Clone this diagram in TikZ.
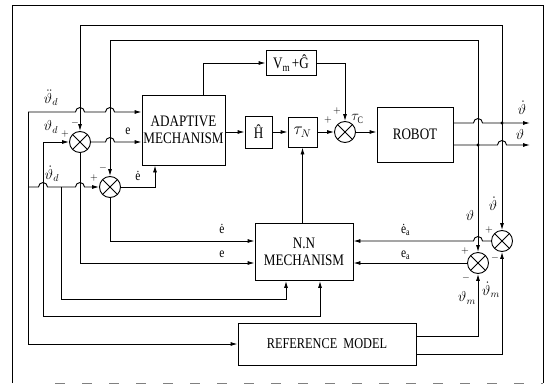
\documentclass[tikz,border=0pt]{standalone}
\usepackage{fontspec}
\setmainfont{Liberation Serif}[FakeStretch=0.82]
\usetikzlibrary{arrows.meta}
\tikzset{
 w/.style={line width=0.9pt},
 ar/.style={-{Latex[length=7pt,width=4pt]}},
 blk/.style={draw, line width=0.9pt, inner sep=0pt, font=\fontsize{16}{17}\selectfont, align=center},
 sumn/.style={draw, circle, line width=0.9pt, minimum size=21pt, inner sep=0pt,
   path picture={\draw[line width=0.9pt] (path picture bounding box.north west)--(path picture bounding box.south east)
     (path picture bounding box.north east)--(path picture bounding box.south west);}},
 lbl/.style={font=\fontsize{14}{14}\selectfont, inner sep=0pt},
 sg/.style={font=\fontsize{10}{10}\selectfont, inner sep=0pt},
}
\begin{document}
\begin{tikzpicture}[x=1pt,y=-1pt]
\useasboundingbox (0,0) rectangle (545,385);
% frame
\draw[w] (12,383) -- (12,5) -- (543,5) -- (543,383);
\draw[w, gray, dash pattern=on 10pt off 17pt] (55,383) -- (543,383);

% blocks
\node[blk, minimum width=83pt, minimum height=70pt] (adapt) at (183.5,130) {ADAPTIVE\\MECHANISM};
\node[blk, minimum width=27pt, minimum height=32pt] (H) at (258.5,132) {Ĥ};
\node[blk, minimum width=29pt, minimum height=30pt] (tauN) at (302.5,132) {$\tau_N$};
\node[blk, minimum width=50pt, minimum height=25pt] (VG) at (291,63) {V$_{\mathrm m}$+Ĝ};
\node[sumn] (sumT) at (345,132) {};
\node[blk, minimum width=76pt, minimum height=55pt] (robot) at (415,134.5) {ROBOT};
\node[blk, minimum width=98pt, minimum height=57pt] (nn) at (304,252) {N.N\\MECHANISM};
\node[blk, minimum width=178pt, minimum height=42pt, font=\fontsize{15}{16}\selectfont] (ref) at (327,344) {REFERENCE\ \ MODEL};
\node[sumn] (s1) at (80,142) {};
\node[sumn] (s2) at (110,187) {};
\node[sumn] (s3) at (478,263) {};
\node[sumn] (s4) at (502,241) {};

% coordinates
\coordinate (in1) at (28,112);
\coordinate (in2) at (43,142);
\coordinate (in3) at (28,187);
\coordinate (jd) at (61,187);
\coordinate (nb1) at (320,316);
\coordinate (nb2) at (286,299);
\coordinate (j1) at (478,145);
\coordinate (j2) at (502,123);
\coordinate (o1) at (530,123);
\coordinate (o2) at (530,145);

% forward path
\draw[w,ar] (adapt.east |- H.west) -- (H.west);
\draw[w,ar] (H.east) -- (tauN.west);
\draw[w,ar] (tauN.east) -- (sumT.west);
\draw[w,ar] (sumT.east) -- (robot.west |- sumT.east);
\draw[w,ar] ([xshift=19.5pt]adapt.north) |- (VG.west);
\draw[w,ar] (VG.east) -| (sumT.north);
\draw[w,ar] (tauN.south |- nn.north) -- (tauN.south);

% left inputs
\draw[w,ar] (in1) -- (75.5,112) arc[start angle=180,end angle=0,radius=4.5pt]
  -- (105.5,112) arc[start angle=180,end angle=0,radius=4.5pt] -- (adapt.west |- in1);
\draw[w,ar] (in1) |- (ref.west);
\draw[w,ar] (in2) -- (s1.west);
\draw[w,ar] (in2) |- (nb1) -- (nb1 |- nn.south);
\draw[w,ar] (in3) -- (38.5,187) arc[start angle=180,end angle=0,radius=4.5pt]
  -- (75.5,187) arc[start angle=180,end angle=0,radius=4.5pt] -- (s2.west);
\draw[w,ar] (jd) |- (nb2) -- (nb2 |- nn.south);
\draw[w,ar] (s1.east) -- (105.5,142) arc[start angle=180,end angle=0,radius=4.5pt] -- (adapt.west |- s1.east);
\draw[w,ar] (s1.south) |- ([yshift=-11pt]nn.west);
\draw[w,ar] (s2.south) |- ([yshift=11pt]nn.west);
\draw[w,ar] (s2.east) -| ([xshift=-28.5pt]adapt.south);

% feedback
\draw[w,ar] (j2) -- (502,25) -- (80,25) -- (s1.north);
\draw[w,ar] (j2) -- (s4.north);
\draw[w,ar] (j1) -- (478,40) -- (110,40) -- (s2.north);
\draw[w,ar] (j1) -- (s3.north);
\draw[w,ar] (robot.east |- j2) -- (473.5,123) arc[start angle=180,end angle=0,radius=4.5pt] -- (o1);
\draw[w,ar] (robot.east |- j1) -- (497.5,145) arc[start angle=180,end angle=0,radius=4.5pt] -- (o2);
\fill (j1) circle[radius=1.6pt];
\fill (j2) circle[radius=1.6pt];
\draw[w,ar] (s4.west) -- (482.5,241) arc[start angle=0,end angle=180,radius=4.5pt] -- ([yshift=11pt]nn.east);
\draw[w,ar] (s3.west) -- ([yshift=-11pt]nn.east);
\draw[w,ar] ([yshift=8pt]ref.east) -| (s3.south);
\draw[w,ar] ([yshift=-10pt]ref.east) -| (s4.south);

% labels
\node[lbl] (l1) at (51,98) {$\ddot\vartheta_d$};
\node[lbl] (l2) at (51,127) {$\vartheta_d$};
\node[sg] (p1) at (65,134) {$+$};
\node[sg] (m1) at (75,123) {$-$};
\node[lbl] (le1) at (128,131) {e};
\node[lbl] (l3) at (52,174) {$\dot\vartheta_d$};
\node[sg] (p2) at (94,178) {$+$};
\node[sg] (m2) at (103,168) {$-$};
\node[lbl] (le2) at (138,176) {ė};
\node[lbl] (le3) at (222,229) {ė};
\node[lbl] (le4) at (222,254) {e};
\node[sg] (p3) at (328,120) {$+$};
\node[sg] (p4) at (337,111) {$+$};
\node[lbl] (ltc) at (358,119) {$\tau_{\mathrm C}$};
\node[lbl] (lo1) at (522,108) {$\dot\vartheta$};
\node[lbl] (lo2) at (520,134) {$\vartheta$};
\node[lbl] (lf1) at (470,215) {$\vartheta$};
\node[lbl] (lf2) at (493,204) {$\dot\vartheta$};
\node[sg] (p5) at (489,230) {$+$};
\node[sg] (m5) at (495,258) {$-$};
\node[sg] (p6) at (465,251) {$+$};
\node[sg] (m6) at (466,278) {$-$};
\node[lbl] (lm1) at (467,298) {$\vartheta_m$};
\node[lbl] (lm2) at (491,290) {$\dot\vartheta_m$};
\node[lbl] (lea1) at (406,230) {ė$_{\mathrm a}$};
\node[lbl] (lea2) at (406,255) {e$_{\mathrm a}$};
\end{tikzpicture}
\end{document}
